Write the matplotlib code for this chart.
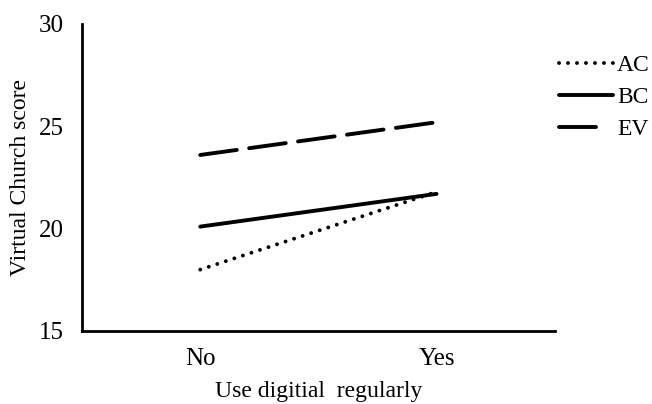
import numpy as np
import matplotlib
matplotlib.use("Agg")
import matplotlib.pyplot as plt
from matplotlib.lines import Line2D

# Dados
categorias = ["No", "Yes"]
ac = [18.0, 21.8]
bc = [20.1, 21.7]
ev = [23.6, 25.2]
series = ["AC", "BC", "EV"]

plt.rcParams['font.family'] = ['Liberation Serif', 'DejaVu Serif']

fig = plt.figure(figsize=(6.52, 4.04), dpi=100)
ax = fig.add_axes([0.1258, 0.1807, 0.725, 0.7599])

x = np.arange(len(categorias))
lw = 2.8
pontilhado = (0, (0.01, 2.3))
tracejado = (0, (9.5, 3.2))
ax.plot(x, ac, color='black', lw=lw, linestyle=pontilhado, dash_capstyle='round')
ax.plot(x, bc, color='black', lw=lw, linestyle='-', solid_capstyle='round')
ax.plot(x, ev, color='black', lw=lw, linestyle=tracejado, dash_capstyle='round')

ax.set_xlim(-0.5, 1.5)
ax.set_ylim(15, 30)
ax.set_xticks(x)
ax.set_xticklabels(categorias)
ax.set_yticks([15, 20, 25, 30])
ax.tick_params(axis='y', length=0, labelsize=18, pad=13)
ax.tick_params(axis='x', length=0, labelsize=18, pad=12)

for s in ['top', 'right']:
    ax.spines[s].set_visible(False)
for s in ['left', 'bottom']:
    ax.spines[s].set_linewidth(2.0)

ax.set_ylabel('Virtual Church score', fontsize=17, labelpad=6)
ax.set_xlabel('Use digitial  regularly', fontsize=17, labelpad=8)

# legenda com alças próprias (EV mostra só um traço)
alcas = [
    Line2D([], [], color='black', lw=lw, linestyle=pontilhado, dash_capstyle='round'),
    Line2D([], [], color='black', lw=lw, linestyle='-', solid_capstyle='round'),
    Line2D([], [], color='black', lw=lw, linestyle=(0, (9.5, 10)), dash_capstyle='round'),
]
ax.legend(alcas, series, loc='upper left', bbox_to_anchor=(0.858, 0.865),
          bbox_transform=fig.transFigure, frameon=False, fontsize=17,
          handlelength=2.25, handletextpad=0.2, labelspacing=0.45,
          borderpad=0, borderaxespad=0)

fig.savefig('out.png', dpi=100)
